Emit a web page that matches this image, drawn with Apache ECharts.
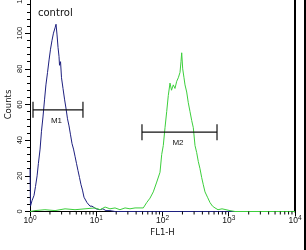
<!DOCTYPE html>
<html><head><meta charset="utf-8">
<script src="https://cdn.jsdelivr.net/npm/echarts@6/dist/echarts.min.js"></script>
<style>html,body{margin:0;padding:0;background:#fff}#c{width:306px;height:250px}</style>
</head><body><div id="c"></div>
<script>
// Control histogram (FL1-H value, count)
const controlX = [1, 1.017, 1.035, 1.07, 1.11, 1.15, 1.21, 1.28, 1.34, 1.42, 1.49, 1.57, 1.66, 1.74, 1.84, 1.94, 2.04, 2.15, 2.26, 2.39, 2.47, 2.56, 2.65, 2.74, 2.79, 2.89, 2.99, 3.15, 3.32, 3.49, 3.68, 3.88, 4.09, 4.31, 4.54, 4.78, 5.03, 5.30, 5.59, 5.89, 6.20, 6.53, 6.88, 7.25, 7.64, 8.05, 8.63, 9.25, 9.91, 10.6, 11.4, 12.6, 14.0, 16.1, 19.2, 10000];
const controlY = [24, 3, 2, 6, 5, 9, 14, 20, 27, 35, 45, 53, 63, 71, 78, 85, 91, 96, 100, 103, 105, 99, 92, 87, 82, 84, 75, 69, 63, 58, 52, 48, 43, 38, 35, 31, 27, 23, 19, 15, 12, 8, 7, 5, 4, 3, 3, 2, 1.5, 2, 1, 1.5, 0.5, 0.5, 0, 0];
// Sample histogram
const sampleX = [1, 1.19, 1.68, 2.39, 3.38, 4.78, 6.77, 9.57, 11.4, 13.6, 16.1, 19.2, 22.8, 27.2, 32.3, 38.5, 45.8, 51.3, 57.7, 64.8, 72.6, 81.8, 91.7, 97.3, 102.8, 109.1, 115.7, 122.3, 129.8, 136.8, 145.5, 154.4, 163.8, 173.2, 183.8, 190.2, 194.9, 201.8, 211.1, 218.6, 231.9, 245.1, 260.1, 276, 291.7, 309.5, 328.3, 347.1, 368.1, 390.6, 412.9, 438, 477.8, 521.2, 568.5, 620.1, 688.3, 791, 909, 1044, 1243, 10000];
const sampleY = [0, 0.5, 1, 0.5, 1.5, 1, 1.5, 2, 1, 2.5, 1.5, 2, 1, 2, 1.5, 2, 2, 2, 5, 7.5, 11, 16.5, 22, 32, 37, 47, 56, 65, 72, 68, 71, 69, 73, 75, 78, 84, 89, 80, 75, 71, 67, 61, 56, 51, 47, 37, 33, 28, 24, 19, 15, 11, 8, 5, 3, 2, 1, 1.5, 1, 0.5, 0, 0];
// Gates
const gateNames = ['M1', 'M2'];
const gateFrom = [1.11, 49];
const gateTo = [6.3, 665];
const gateLevel = [57, 44.5];
// Axis ticks
const yTicks = [0, 20, 40, 60, 80, 100, 120];
const xDecades = [1, 10, 100, 1000, 10000];
const xMinorMultipliers = [2, 3, 4, 5, 6, 7, 8, 9];
const annotation = 'control';

const minorX = [];
xDecades.slice(0, -1).forEach(d => xMinorMultipliers.forEach(m => minorX.push([d * m, 0])));

const chart = echarts.init(document.getElementById('c'), null, {renderer: 'canvas'});
const FONT = 'Liberation Sans, Arial, sans-serif';
chart.setOption({
  animation: false,
  backgroundColor: '#fff',
  grid: {left: 30, right: 11, top: -2.5, bottom: 38.5, containLabel: false, outerBoundsMode: 'none'},
  xAxis: {
    type: 'log', logBase: 10, min: xDecades[0], max: xDecades[xDecades.length - 1],
    name: 'FL1-H', nameLocation: 'middle', nameGap: 17, nameMoveOverlap: false,
    nameTextStyle: {fontFamily: 'DejaVu Sans, sans-serif', fontSize: 8.5, color: '#111'},
    axisLine: {lineStyle: {color: '#000', width: 1}},
    axisTick: {show: true, inside: false, length: 5, lineStyle: {color: '#000'}},
    splitLine: {show: false},
    axisLabel: {
      margin: 3,
      formatter: v => '{b|10}{s|' + Math.round(Math.log10(v)) + '}',
      rich: {
        b: {fontFamily: FONT, fontSize: 8.5, color: '#111', lineHeight: 11, verticalAlign: 'bottom'},
        s: {fontFamily: FONT, fontSize: 6.5, color: '#111', lineHeight: 11, verticalAlign: 'top'}
      }
    }
  },
  yAxis: [{
    type: 'value', min: yTicks[0], max: yTicks[yTicks.length - 1], interval: 20,
    name: 'Counts', nameLocation: 'middle', nameGap: 17, nameRotate: 90, nameMoveOverlap: false,
    nameTextStyle: {fontFamily: 'DejaVu Sans, sans-serif', fontSize: 8.5, color: '#111'},
    axisLine: {show: true, lineStyle: {color: '#000', width: 1}},
    axisTick: {show: true, length: 5, lineStyle: {color: '#000'}},
    minorTick: {show: true, splitNumber: 5, length: 3, lineStyle: {color: '#000'}},
    splitLine: {show: false},
    axisLabel: {rotate: 90, margin: 6, fontFamily: FONT, fontSize: 7.5, color: '#111'}
  }, {
    type: 'value', position: 'right', min: yTicks[0], max: yTicks[yTicks.length - 1],
    axisLine: {show: true, lineStyle: {color: '#000', width: 2}},
    axisTick: {show: false}, axisLabel: {show: false}, splitLine: {show: false}
  }],
  graphic: [
    {type: 'text', left: 38, top: 8, style: {text: annotation, fontFamily: 'DejaVu Sans, sans-serif', fontSize: 10, fill: '#111'}},
    {type: 'rect', right: 0, top: 0, shape: {width: 2, height: 250}, style: {fill: '#000'}}
  ],
  series: [
    {
      type: 'line', name: 'control', data: controlX.map((x, i) => [x, controlY[i]]),
      showSymbol: false, symbol: 'none', lineStyle: {color: '#1e2080', width: 1}, z: 3, clip: true
    },
    {
      type: 'line', name: 'sample', data: sampleX.map((x, i) => [x, sampleY[i]]),
      showSymbol: false, symbol: 'none', lineStyle: {color: '#3ccf3c', width: 1}, z: 4, clip: true
    },
    {
      type: 'custom', name: 'minorTicks', data: minorX, z: 5, clip: false,
      renderItem: (params, api) => {
        const p = api.coord([api.value(0), 0]);
        return {type: 'line', shape: {x1: p[0], y1: p[1], x2: p[0], y2: p[1] + 3}, style: {stroke: '#000', lineWidth: 1}};
      }
    },
    {
      type: 'custom', name: 'gates', z: 6, clip: false,
      data: gateFrom.map((f, i) => [f, gateTo[i], gateLevel[i]]),
      encode: {x: [0, 1], y: 2},
      renderItem: (params, api) => {
        const a = api.coord([api.value(0), api.value(2)]);
        const b = api.coord([api.value(1), api.value(2)]);
        const cap = 8;
        const st = {stroke: '#111', lineWidth: 1.2};
        return {type: 'group', children: [
          {type: 'line', shape: {x1: a[0], y1: a[1], x2: b[0], y2: b[1]}, style: st},
          {type: 'line', shape: {x1: a[0], y1: a[1] - cap, x2: a[0], y2: a[1] + cap}, style: st},
          {type: 'line', shape: {x1: b[0], y1: b[1] - cap, x2: b[0], y2: b[1] + cap}, style: st},
          {type: 'text', x: (a[0] + b[0]) / 2 - 1.5, y: a[1] + 11,
           style: {text: gateNames[params.dataIndex], fontFamily: FONT, fontSize: 8, fill: '#111', align: 'center', verticalAlign: 'middle'}}
        ]};
      }
    }
  ]
});
</script>
</body></html>
